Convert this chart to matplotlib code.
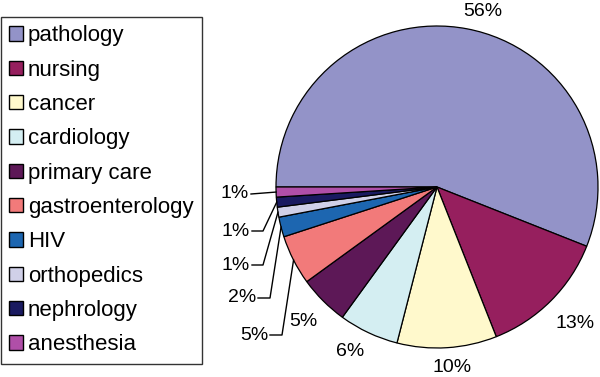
import numpy as np
import matplotlib.pyplot as plt

plt.rcParams['font.family'] = ['Liberation Sans', 'DejaVu Sans']

fields = ['pathology', 'nursing', 'cancer', 'cardiology', 'primary care',
          'gastroenterology', 'HIV', 'orthopedics', 'nephrology', 'anesthesia']
shares = [56, 13, 10, 6, 5, 5, 2, 1, 1, 1]
colors = ['#9393c8', '#961f5e', '#fff9cc', '#d4eef2', '#5d1857',
          '#f27a7a', '#1d66b0', '#d0d0e8', '#1a1a60', '#b04fa8']

W, H = 600, 377
cx, cy, R = 437, H - 187, 161

fig = plt.figure(figsize=(6, 3.77), dpi=100)
ax = fig.add_axes([0, 0, 1, 1])
wedges, _ = ax.pie(shares, colors=colors, startangle=180, counterclock=False,
                   center=(cx, cy), radius=R,
                   wedgeprops=dict(edgecolor='black', linewidth=0.9))
ax.set_xlim(0, W)
ax.set_ylim(0, H)
ax.set_aspect('equal')
ax.axis('off')

# label placement (pixels, image y downward); left ones get leader lines
plain = {0: (483, 11), 1: (575, 323), 2: (452, 368), 3: (350, 352), 4: (303, 322)}
leader = {5: (268, 335, 282), 6: (256, 298, 270), 7: (250, 265, 263),
          8: (250, 231, 263), 9: (249, 194, None)}

for i, w in enumerate(wedges):
    txt = '%d%%' % shares[i]
    if i in plain:
        x, y = plain[i]
        ax.text(x, H - y, txt, ha='center', va='center', fontsize=14)
    else:
        x, y, ex = leader[i]
        y = H - y
        ax.text(x, y, txt, ha='right', va='center', fontsize=14)
        mid = np.deg2rad((w.theta1 + w.theta2) / 2)
        px, py = cx + R * np.cos(mid), cy + R * np.sin(mid)
        if ex is None:
            xs, ys = [x + 2, px], [y, py]
        else:
            xs, ys = [x + 2, ex, px], [y, y, py]
        ax.plot(xs, ys, color='black', lw=1)

leg = ax.legend(wedges, fields, loc='upper left', bbox_to_anchor=(1 / W, 1 - 17 / H),
                fontsize=16, frameon=True, fancybox=False, edgecolor='black',
                handlelength=0.62, handleheight=0.62, handletextpad=0.2,
                labelspacing=0.6, borderpad=0.38, borderaxespad=0)
leg.get_frame().set_linewidth(1)
for h in leg.legend_handles:
    h.set_edgecolor('black')
    h.set_linewidth(1)

fig.savefig('out.png', dpi=100)
